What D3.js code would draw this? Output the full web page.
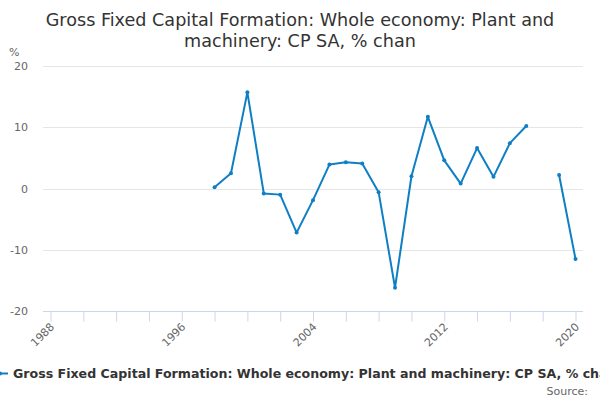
<!DOCTYPE html>
<html>
<head>
<meta charset="utf-8">
<script src="https://cdn.jsdelivr.net/npm/d3@7"></script>
<style>
  body { margin: 0; background: #fff; }
  text { font-family: "DejaVu Sans", sans-serif; }
</style>
</head>
<body>
<div id="root"></div>
<script>
// years on the x axis, values are % change (null = no data)
const years = d3.range(1988, 2021);
const values = [
  null, null, null, null, null, null, null, null, null, null,
  0.2, 2.5, 15.7, -0.8, -1.0, -7.2, -1.9, 3.9, 4.3, 4.1,
  -0.6, -16.2, 2.0, 11.7, 4.6, 0.8, 6.6, 1.9, 7.4, 10.2,
  null, 2.2, -11.5
];
const yTicks = [-20, -10, 0, 10, 20];
const xLabelYears = [1988, 1996, 2004, 2012, 2020];

const seriesName = 'Gross Fixed Capital Formation: Whole economy: Plant and machinery: CP SA, % chan';
const titleLines = ['Gross Fixed Capital Formation: Whole economy: Plant and', 'machinery: CP SA, % chan'];

const width = 600, height = 400;
const plotLeft = 43, plotRight = 583, plotTop = 66, plotBottom = 311;
const lineColor = '#0f7fc5';

const svg = d3.select('#root').append('svg')
  .attr('width', width)
  .attr('height', height)
  .attr('viewBox', [0, 0, width, height]);

const x = d3.scaleLinear().domain([1988, 2020]).range([50.5, 575.5]);
const y = d3.scaleLinear().domain([-20, 20]).range([plotBottom, plotTop]);

// title
svg.append('text')
  .attr('x', 300)
  .attr('text-anchor', 'middle')
  .attr('fill', '#333')
  .style('font-size', '17.6px')
  .selectAll('tspan')
  .data(titleLines)
  .join('tspan')
  .attr('x', 300)
  .attr('y', (d, i) => 26 + i * 21)
  .text((d) => d);

// horizontal grid + y labels
svg.append('g')
  .selectAll('line')
  .data(yTicks.filter((d) => d !== -20))
  .join('line')
  .attr('x1', plotLeft)
  .attr('x2', plotRight)
  .attr('y1', (d) => Math.round(y(d)) + 0.5)
  .attr('y2', (d) => Math.round(y(d)) + 0.5)
  .attr('stroke', '#e6e6e6');

svg.append('g')
  .selectAll('text')
  .data(yTicks)
  .join('text')
  .attr('x', 28)
  .attr('y', (d) => y(d) + 4)
  .attr('text-anchor', 'end')
  .attr('fill', '#666')
  .style('font-size', '11px')
  .text((d) => d);

svg.append('text')
  .attr('x', 9)
  .attr('y', 56)
  .attr('fill', '#666')
  .style('font-size', '11px')
  .text('%');

// x axis
const xAxis = d3.axisBottom(x)
  .tickValues(d3.range(1988, 2021, 2))
  .tickSize(10)
  .tickFormat((d) => xLabelYears.includes(d) ? d : '');

const gx = svg.append('g')
  .attr('transform', `translate(0, ${plotBottom + 0.5})`)
  .call(xAxis);

gx.select('.domain').remove();
gx.append('line')
  .attr('x1', plotLeft)
  .attr('x2', plotRight)
  .attr('stroke', '#ccd6eb');
gx.selectAll('.tick line').attr('stroke', '#ccd6eb');
gx.selectAll('.tick text')
  .attr('fill', '#666')
  .style('font-size', '11px')
  .style('font-family', '"DejaVu Sans", sans-serif')
  .attr('text-anchor', 'end')
  .attr('dy', null)
  .attr('y', 0)
  .attr('transform', 'translate(4, 16) rotate(-45)');

// line
const points = years.map((yr, i) => ({ year: yr, value: values[i] }));

const line = d3.line()
  .defined((d) => d.value !== null)
  .x((d) => x(d.year))
  .y((d) => y(d.value));

svg.append('path')
  .datum(points)
  .attr('fill', 'none')
  .attr('stroke', lineColor)
  .attr('stroke-width', 2)
  .attr('stroke-linejoin', 'round')
  .attr('d', line);

svg.append('g')
  .selectAll('circle')
  .data(points.filter((d) => d.value !== null))
  .join('circle')
  .attr('cx', (d) => x(d.year))
  .attr('cy', (d) => y(d.value))
  .attr('r', 2)
  .attr('fill', lineColor);

// legend (the reference clips the long series name at the right edge)
svg.append('line')
  .attr('x1', -8)
  .attr('x2', 8)
  .attr('y1', 373.5)
  .attr('y2', 373.5)
  .attr('stroke', lineColor)
  .attr('stroke-width', 2);

svg.append('circle')
  .attr('cx', 0)
  .attr('cy', 373.5)
  .attr('r', 2)
  .attr('fill', lineColor);

svg.append('text')
  .attr('x', 13)
  .attr('y', 378)
  .attr('fill', '#333')
  .style('font-size', '12.6px')
  .style('font-weight', 'bold')
  .text(seriesName);

svg.append('text')
  .attr('x', 588)
  .attr('y', 395)
  .attr('text-anchor', 'end')
  .attr('fill', '#666')
  .style('font-size', '11px')
  .text('Source:');
</script>
</body>
</html>
